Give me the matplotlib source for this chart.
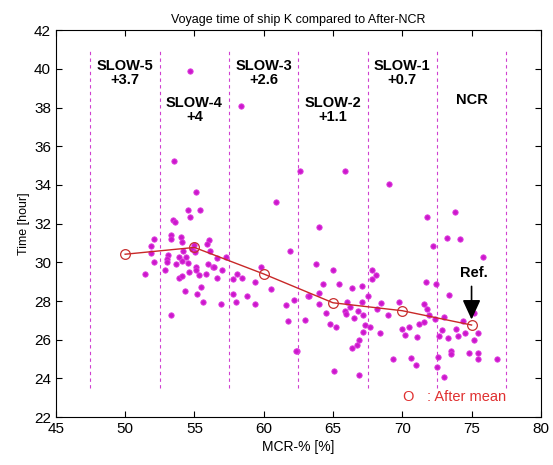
import matplotlib
matplotlib.use("Agg")
import matplotlib.pyplot as plt

plt.rcParams['font.family'] = ['Liberation Sans', 'DejaVu Sans']

# scatter samples: MCR-% and voyage time
mcr = [53.5, 55.1, 54.55, 55.4, 54.7, 53.46, 53.6, 60.9, 62.65, 61.9,
       52.1, 51.9, 53.3, 53.3, 54.0, 54.1, 56.06, 55.9, 56.16, 54.8,
       55.03, 51.9, 53.1, 53.9, 54.4, 56.6, 57.3, 52.1, 53.0, 54.07,
       54.55, 55.15, 56.35, 59.84, 53.0, 51.4, 53.9, 54.07, 54.6, 55.15,
       55.3, 55.87, 56.4, 56.6, 54.3, 55.2, 55.5, 55.6, 56.9, 57.8,
       58.1, 58.4, 57.8, 58.0, 58.8, 59.36, 59.4, 53.3, 61.6, 62.2,
       61.76, 62.4, 63.2, 54.67, 58.35, 65.9, 69.05, 64.0, 71.8, 73.8,
       73.2, 74.15, 72.2, 75.8, 63.76, 65.0, 67.8, 68.1, 67.8, 64.3,
       65.4, 66.4, 67.06, 64.0, 63.3, 64.0, 66.0, 67.06, 67.5, 68.5,
       71.7, 72.45, 73.35, 69.8, 71.55, 71.8, 64.5, 64.8, 65.2, 65.9,
       65.95, 66.5, 66.8, 67.17, 67.3, 67.66, 67.17, 66.9, 66.4, 66.7,
       68.4, 62.3, 65.1, 66.9, 69.3, 70.6, 70.97, 70.0, 70.2, 70.5,
       71.05, 71.9, 71.55, 72.35, 72.65, 73.3, 73.0, 73.55, 73.55, 72.6,
       72.5, 73.0, 73.86, 74.35, 74.5, 75.2, 75.5, 75.2, 74.8, 75.5,
       75.5, 76.85, 55.0, 54.2, 53.7, 52.9, 56.0, 57.0, 68.2, 69.0,
       71.2, 72.9, 74.0, 63.0, 66.2, 60.5]
hours = [35.25, 33.66, 32.73, 32.73, 32.35, 32.2, 32.1, 33.1, 34.73, 30.58,
         31.2, 30.84, 31.4, 31.2, 31.3, 31.06, 31.15, 30.93, 30.6, 30.7,
         30.54, 30.46, 30.37, 30.29, 30.29, 30.2, 30.3, 30.03, 30.15, 30.08,
         29.98, 29.74, 29.77, 29.77, 30.03, 29.4, 29.17, 29.29, 29.5, 29.63,
         29.34, 29.42, 29.74, 29.17, 28.53, 28.36, 28.74, 27.96, 27.87, 29.12,
         29.4, 29.2, 28.36, 27.96, 28.25, 27.87, 29.0, 27.27, 27.8, 28.05,
         26.96, 25.43, 28.25, 39.9, 38.1, 34.73, 34.04, 31.84, 32.35, 32.6,
         31.27, 31.2, 30.84, 30.3, 29.9, 29.63, 29.63, 29.34, 29.12, 28.87,
         28.87, 28.7, 28.77, 28.39, 28.25, 27.87, 27.96, 27.96, 28.25, 27.9,
         28.99, 28.87, 28.3, 27.96, 27.87, 27.57, 27.39, 26.8, 26.67, 27.5,
         27.32, 27.1, 27.5, 27.27, 26.75, 26.67, 26.4, 25.98, 25.55, 25.72,
         26.36, 25.43, 24.4, 24.2, 24.98, 25.03, 24.69, 26.53, 26.24, 26.67,
         26.13, 27.27, 26.93, 27.05, 26.19, 26.1, 27.15, 25.43, 25.26, 25.1,
         24.57, 24.05, 26.53, 26.97, 26.34, 26.0, 26.36, 27.36, 25.32, 25.32,
         25.0, 25.0, 30.9, 30.6, 29.9, 29.6, 29.9, 29.6, 27.6, 27.3,
         26.8, 26.5, 26.2, 27.0, 27.7, 28.6]

# after-mean values per speed step
mean_mcr = [50, 55, 60, 65, 70, 75]
mean_hours = [30.42, 30.77, 29.4, 27.91, 27.5, 26.76]

bounds = [47.5, 52.5, 57.5, 62.5, 67.5, 72.5, 77.5]
steps = ["SLOW-5\n+3.7", "SLOW-4\n+4", "SLOW-3\n+2.6", "SLOW-2\n+1.1", "SLOW-1\n+0.7", "NCR"]
step_y = [39.8, 37.9, 39.8, 37.9, 39.8, 38.4]

fig = plt.figure(figsize=(5.53, 4.65), dpi=100)
ax = fig.add_axes([0.101, 0.103, 0.877, 0.832])

ax.scatter(mcr, hours, s=15, color='#cc18cc', edgecolors='#e040e0', linewidths=0.6, zorder=3)

for b in bounds:
    ax.plot([b, b], [23.5, 41.0], color='#d040d0', lw=0.8, ls=(0, (3, 3)), zorder=2)

ax.plot(mean_mcr, mean_hours, color='#c82828', lw=1.0, marker='o', ms=7,
        mfc='none', mec='#c83030', mew=0.9, zorder=4)

for x, lab, y in zip(mean_mcr, steps, step_y):
    ax.text(x, y, lab, ha='center', va='center', fontsize=10.5, fontweight='bold',
            linespacing=1.0, zorder=5)

ax.annotate("", xy=(75, 26.9), xytext=(75, 28.9),
            arrowprops=dict(arrowstyle='-|>,head_length=1.2,head_width=0.55',
                            color='black', lw=1.2), zorder=6)
ax.text(75.2, 29.45, "Ref.", ha='center', va='center', fontsize=10.5, fontweight='bold', zorder=6)

ax.text(70.0, 23.05, "O", color='#e03030', fontsize=10.5, va='center', ha='left')
ax.text(71.8, 23.05, ": After mean", color='#e03030', fontsize=10.5, va='center', ha='left')

ax.set_xlim(45, 80)
ax.set_ylim(22, 42)
ax.set_xticks(range(45, 81, 5))
ax.set_yticks(range(22, 43, 2))
ax.tick_params(direction='in', top=True, right=True, labelsize=11, length=4)
ax.set_title("Voyage time of ship K compared to After-NCR", fontsize=9, pad=5)
ax.set_xlabel("MCR-% [%]", fontsize=10, labelpad=3)
ax.set_ylabel("Time [hour]", fontsize=9, labelpad=3)

fig.savefig("out.png", dpi=100)
